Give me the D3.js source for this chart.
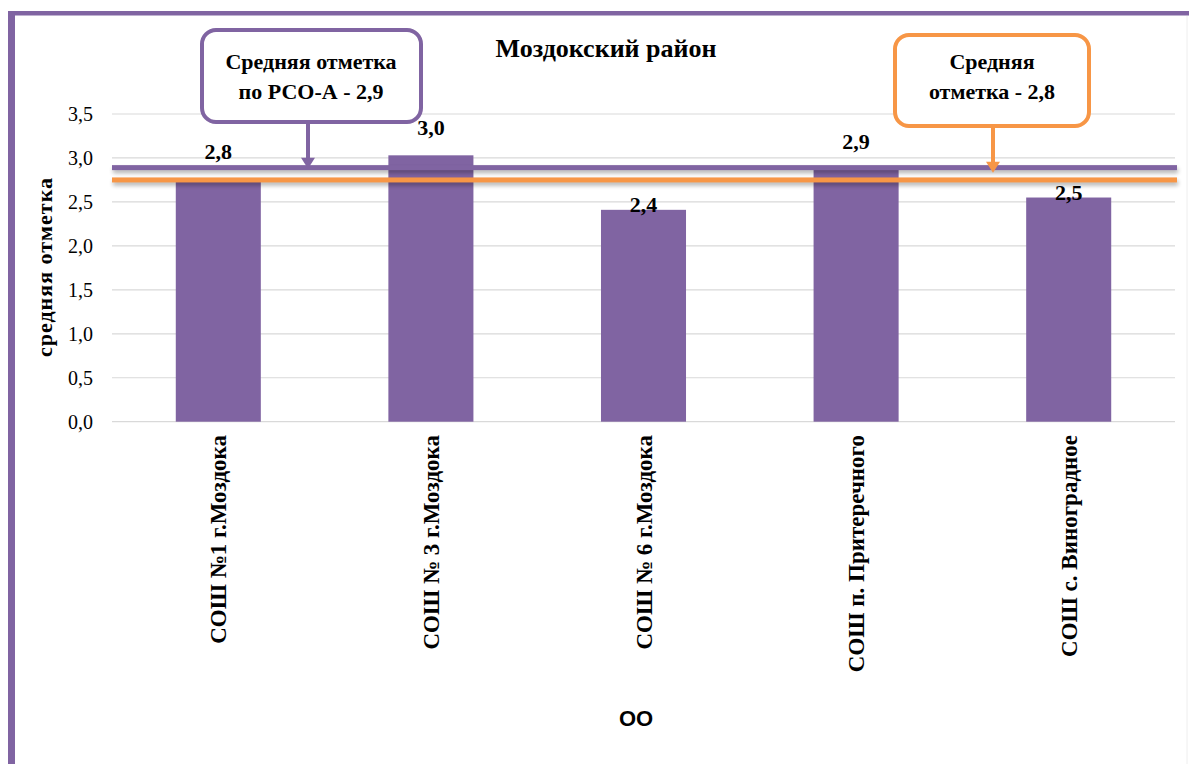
<!DOCTYPE html>
<html>
<head>
<meta charset="utf-8">
<script src="https://cdn.jsdelivr.net/npm/d3@7"></script>
<style>
  html, body { margin: 0; padding: 0; background: #ffffff; }
  svg { display: block; }
  text { font-family: "Liberation Serif", "Times New Roman", serif; fill: #000; }
</style>
</head>
<body>
<svg id="chart" width="1189" height="764"></svg>
<script>
// ---- data ----
const categories = ["СОШ №1  г.Моздока", "СОШ № 3 г.Моздока", "СОШ № 6 г.Моздока", "СОШ п. Притеречного", "СОШ с. Виноградное"];
const values = [2.76, 3.03, 2.41, 2.88, 2.55];
const yTicks = [0, 0.5, 1.0, 1.5, 2.0, 2.5, 3.0, 3.5];
const avgRegion = 2.89;   // по РСО-А
const avgDistrict = 2.75; // Моздокский район
const chartTitle = "Моздокский район";
const yTitle = "средняя отметка";
const xTitle = "ОО";
const calloutRegion = ["Средняя отметка", "по РСО-А - 2,9"];
const calloutDistrict = ["Средняя", "отметка - 2,8"];

const fmt = v => d3.format(".1f")(v).replace(".", ",");
const PURPLE = "#8064A2", ORANGE = "#F79646", GRID = "#d9d9d9";

const svg = d3.select("#chart");
const defs = svg.append("defs");
const sh = defs.append("filter").attr("id", "shadow").attr("filterUnits", "userSpaceOnUse")
  .attr("x", 0).attr("y", 0).attr("width", 1189).attr("height", 764);
sh.append("feGaussianBlur").attr("stdDeviation", 2);

// frame
svg.append("rect").attr("x", 8).attr("y", 11).attr("width", 1181).attr("height", 4.5).attr("fill", PURPLE);
svg.append("rect").attr("x", 8).attr("y", 11).attr("width", 7).attr("height", 753).attr("fill", PURPLE);
svg.append("line").attr("x1", 1187).attr("x2", 1187).attr("y1", 16).attr("y2", 764).attr("stroke", "#eeeeee").attr("stroke-width", 1);

const x = d3.scaleBand().domain(categories).range([112, 1175]).paddingInner(0.6).paddingOuter(0.3);
const y = d3.scaleLinear().domain([0, 3.5]).range([421.7, 114]);

// gridlines
svg.append("g").selectAll("line").data(yTicks).join("line")
  .attr("x1", 112).attr("x2", 1175)
  .attr("y1", d => y(d)).attr("y2", d => y(d))
  .attr("stroke", GRID).attr("stroke-width", 1.2);

// y axis labels
const yAxis = d3.axisLeft(y).tickValues(yTicks).tickFormat(fmt).tickSize(0).tickPadding(0);
const gy = svg.append("g").attr("transform", "translate(93,0)").call(yAxis);
gy.select(".domain").remove();
gy.selectAll("text").style("font-family", "'Liberation Serif', serif").style("font-size", "20px").attr("fill", "#000");

// bars
svg.append("g").selectAll("rect").data(values).join("rect")
  .attr("x", (d, i) => x(categories[i]))
  .attr("width", x.bandwidth())
  .attr("y", d => y(d))
  .attr("height", d => y(0) - y(d))
  .attr("fill", PURPLE);

// average lines (with soft shadow)
const avgLines = [{ v: avgRegion, c: PURPLE }, { v: avgDistrict, c: ORANGE }];
const gl = svg.append("g");
gl.selectAll("rect.sh").data(avgLines).join("rect").attr("class", "sh")
  .attr("x", 113).attr("width", 1065).attr("y", d => y(d.v) + 0.5).attr("height", 5)
  .attr("fill", "#000").attr("opacity", 0.3).attr("filter", "url(#shadow)");
gl.selectAll("rect.ln").data(avgLines).join("rect").attr("class", "ln")
  .attr("x", 112).attr("width", 1065).attr("y", d => y(d.v) - 2.5).attr("height", 5)
  .attr("fill", d => d.c);

// data labels
svg.append("g").selectAll("text").data(values).join("text")
  .attr("x", (d, i) => x(categories[i]) + x.bandwidth() / 2)
  .attr("y", d => y(d) - (d >= 2.7 ? 20 : -2))
  .attr("text-anchor", "middle")
  .style("font-size", "22px").style("font-weight", "bold")
  .text(d => fmt(d));

// x category labels
svg.append("g").selectAll("text").data(categories).join("text")
  .attr("transform", d => `translate(${x(d) + x.bandwidth() / 2},435) rotate(-90)`)
  .attr("text-anchor", "end").attr("dy", "0.35em")
  .style("font-size", "23px").style("font-weight", "bold")
  .text(d => d);

// titles
svg.append("text").attr("x", 606).attr("y", 57).attr("text-anchor", "middle")
  .style("font-size", "26px").style("font-weight", "bold").text(chartTitle);
svg.append("text").attr("transform", "translate(44,267) rotate(-90)").attr("text-anchor", "middle").attr("dy", "0.35em")
  .style("font-size", "22px").style("font-weight", "bold").style("letter-spacing", "1px").text(yTitle);
svg.append("text").attr("x", 636).attr("y", 726).attr("text-anchor", "middle")
  .style("font-family", "'Liberation Sans', Arial, sans-serif").style("font-size", "22px").style("font-weight", "bold").text(xTitle);

// callouts
function callout(x0, x1, y0, y1, px, tipY, color, lines, cx, baselines) {
  const g = svg.append("g");
  g.append("line").attr("x1", px).attr("x2", px).attr("y1", y1).attr("y2", tipY - 9)
    .attr("stroke", color).attr("stroke-width", 4);
  g.append("path").attr("d", `M${px - 7},${tipY - 11} L${px + 7},${tipY - 11} L${px},${tipY} Z`).attr("fill", color);
  g.append("rect").attr("x", x0).attr("y", y0).attr("width", x1 - x0).attr("height", y1 - y0)
    .attr("rx", 14).attr("ry", 14).attr("fill", "#fff").attr("stroke", color).attr("stroke-width", 4);
  lines.forEach((t, i) => {
    g.append("text").attr("x", cx).attr("y", baselines[i]).attr("text-anchor", "middle")
      .style("font-size", "22px").style("font-weight", "bold").text(t);
  });
}
callout(202, 421, 30, 122, 308, y(avgRegion) + 1, PURPLE, calloutRegion, 311, [69, 99]);
callout(895, 1089, 35, 126, 993, y(avgRegion) + 5, ORANGE, calloutDistrict, 992, [69, 99]);
</script>
</body>
</html>
